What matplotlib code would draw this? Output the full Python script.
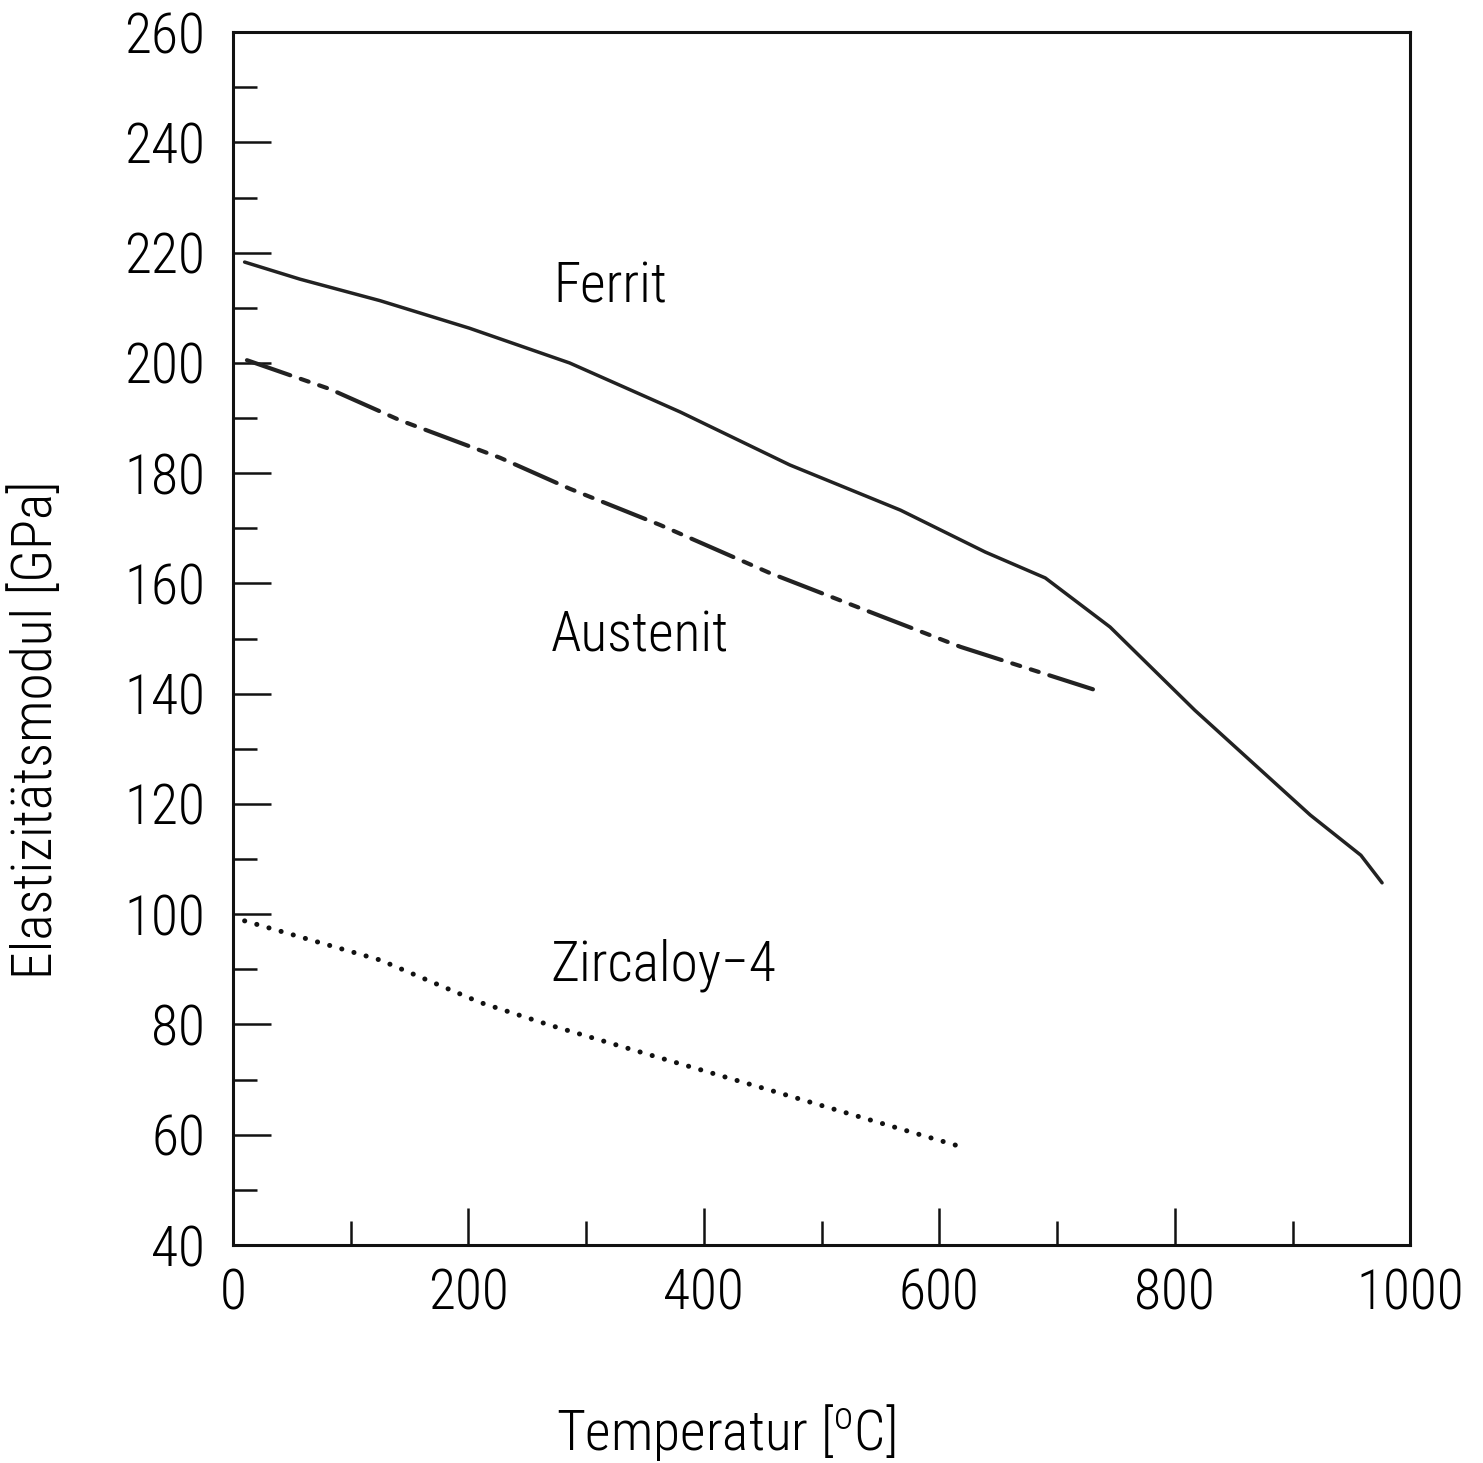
import numpy as np
import matplotlib
matplotlib.use('Agg')
import matplotlib.pyplot as plt
from matplotlib import font_manager

# values
ferrit_T = [10, 57, 125, 201, 286, 380, 473, 567, 639, 690, 745, 817, 915, 958, 976]
ferrit_E = [218.3, 215.2, 211.3, 206.3, 200.0, 191.1, 181.5, 173.3, 165.7, 161.0, 152.1, 137.0, 118.0, 110.7, 105.7]

austenit_T = [12, 82, 142, 227, 286, 363, 456, 550, 618, 732]
austenit_E = [200.5, 195.3, 189.6, 182.8, 177.2, 170.6, 161.9, 154.1, 148.5, 140.7]

zirc_T = [10, 125, 210, 269, 354, 456, 541, 622]
zirc_E = [98.8, 91.7, 84.0, 79.9, 74.5, 68.1, 62.7, 57.6]

x_ticks = [0, 200, 400, 600, 800, 1000]
y_ticks = list(range(40, 261, 20))

# narrow, thin sans to mimic the plotter lettering
have = {f.name for f in font_manager.fontManager.ttflist}
font = 'DejaVu Sans'
for cand in ['Roboto Condensed', 'Open Sans Condensed', 'Archivo Narrow',
             'Liberation Sans Narrow', 'PT Sans Narrow', 'Roboto']:
    if cand in have:
        font = cand
        break

plt.rcParams['font.family'] = [font, 'DejaVu Sans']
plt.rcParams['font.weight'] = 'light'
plt.rcParams['mathtext.fontset'] = 'custom'
plt.rcParams['mathtext.rm'] = font
plt.rcParams['lines.scale_dashes'] = False

fig = plt.figure(figsize=(14.83, 14.63), dpi=100)
ax = fig.add_axes([0.157, 0.149, 0.794, 0.829])

ax.plot(ferrit_T, ferrit_E, color='#222222', lw=2.5, solid_joinstyle='round',
        solid_capstyle='round')
ax.plot(austenit_T, austenit_E, color='#222222', lw=3.0,
        linestyle=(0, (33, 8, 6, 8, 6, 8)), dash_capstyle='round')
ax.plot(zirc_T, zirc_E, color='#111111', lw=3.6,
        linestyle=(0, (0.1, 9)), dash_capstyle='round')

ax.text(272, 213.8, 'Ferrit', fontsize=40, va='center')
ax.text(270, 150.5, 'Austenit', fontsize=40, va='center')
ax.text(270, 90.8, 'Zircaloy\u22124', fontsize=40, va='center')

ax.set_xlim(0, 1000)
ax.set_ylim(40, 260)
ax.set_xticks(x_ticks)
ax.set_yticks(y_ticks)
ax.set_xticks(np.arange(100, 1000, 200), minor=True)
ax.set_yticks(np.arange(50, 260, 20), minor=True)
ax.tick_params(which='both', direction='in', top=False, right=False, width=1.8,
               labelsize=40, color='#111111')
ax.tick_params(which='major', length=27)
ax.tick_params(which='minor', length=17)
ax.tick_params(axis='y', which='major', pad=20)
ax.tick_params(axis='x', which='major', pad=16)

for s in ax.spines.values():
    s.set_linewidth(2.2)
    s.set_color('#111111')

fig.text(0.489, 0.021, 'Temperatur [$^{\\mathrm{o}}$C]', fontsize=40, ha='center', va='center')
fig.text(0.024, 0.501, 'Elastizitätsmodul [GPa]', fontsize=40, ha='center', va='center',
         rotation=90)

fig.savefig('out.png', dpi=100)
